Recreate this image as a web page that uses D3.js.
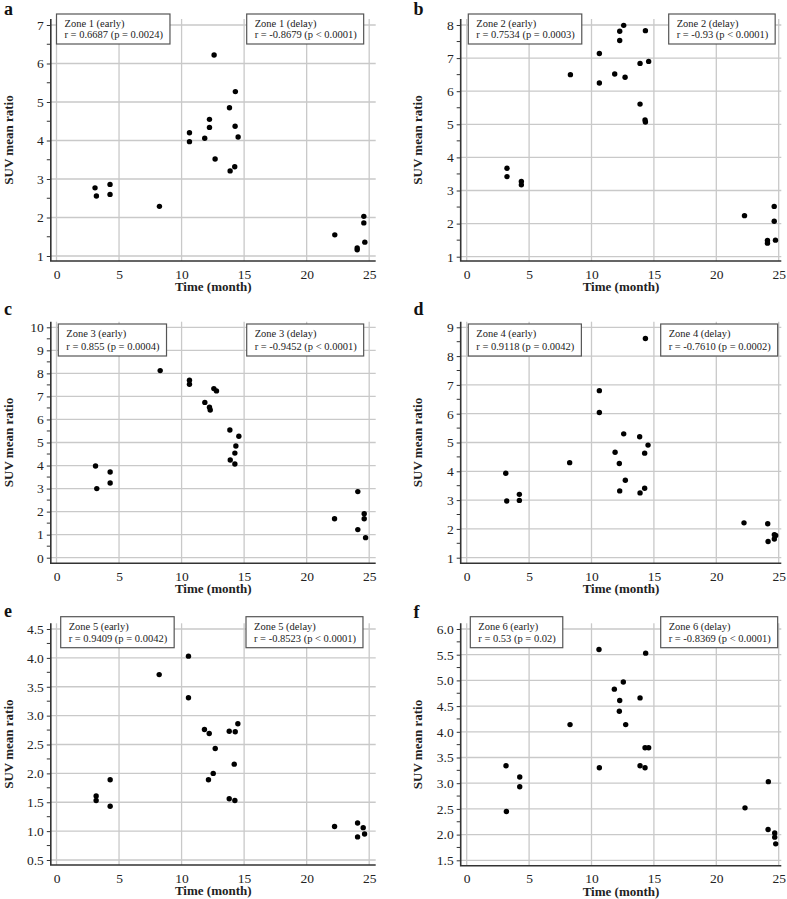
<!DOCTYPE html>
<html>
<head>
<meta charset="utf-8">
<script src="https://cdn.jsdelivr.net/npm/d3@7"></script>
<style>
  body { margin: 0; background: #fff; }
  svg { display: block; }
  text { font-family: "Liberation Serif", "Times New Roman", serif; }
</style>
</head>
<body>
<svg id="chart" width="787" height="899"></svg>
<script>
// ---------------- DATA ----------------
const xTickValues = [0, 5, 10, 15, 20, 25];

const zone1Time = [3.08, 3.19, 4.28, 4.28, 8.23, 10.63, 10.63, 11.85, 12.23, 12.23, 12.6, 12.68, 13.83, 13.88, 14.25, 14.28, 14.3, 14.52, 22.25, 24.04, 24.04, 24.57, 24.57, 24.65];
const zone1Suv  = [2.77, 2.56, 2.86, 2.60, 2.29, 4.20, 3.97, 4.06, 4.55, 4.34, 6.22, 3.52, 4.85, 3.21, 3.32, 4.37, 5.27, 4.09, 1.55, 1.21, 1.16, 2.03, 1.86, 1.36];

const zone2Time = [3.23, 3.23, 4.38, 4.38, 8.31, 10.63, 10.63, 11.86, 12.26, 12.26, 12.58, 12.69, 13.89, 13.89, 14.29, 14.32, 14.32, 14.58, 22.26, 24.1, 24.1, 24.64, 24.64, 24.74];
const zone2Suv  = [3.67, 3.42, 3.27, 3.17, 6.50, 7.14, 6.25, 6.52, 7.81, 7.53, 7.99, 6.42, 6.84, 5.61, 5.13, 5.07, 7.83, 6.90, 2.24, 1.49, 1.41, 2.52, 2.07, 1.50];

const zone3Time = [3.12, 3.22, 4.29, 4.29, 8.29, 10.63, 10.63, 11.86, 12.23, 12.29, 12.58, 12.79, 13.86, 13.89, 14.26, 14.26, 14.34, 14.58, 22.23, 24.09, 24.09, 24.6, 24.6, 24.71];
const zone3Suv  = [3.98, 3.00, 3.72, 3.24, 8.12, 7.70, 7.53, 6.74, 6.53, 6.41, 7.34, 7.24, 5.54, 4.24, 4.07, 4.54, 4.85, 5.27, 1.69, 2.87, 1.22, 1.91, 1.69, 0.87];

const zone4Time = [3.13, 3.21, 4.22, 4.22, 8.25, 10.63, 10.63, 11.89, 12.23, 12.26, 12.58, 12.71, 13.86, 13.89, 14.26, 14.26, 14.32, 14.53, 22.22, 24.12, 24.15, 24.65, 24.65, 24.76];
const zone4Suv  = [3.93, 2.97, 3.20, 2.99, 4.30, 6.80, 6.04, 4.66, 4.27, 3.32, 5.30, 3.69, 5.20, 3.25, 3.41, 4.63, 8.61, 4.91, 2.21, 2.18, 1.56, 1.80, 1.65, 1.77];

const zone5Time = [3.17, 3.17, 4.29, 4.29, 8.21, 10.55, 10.55, 11.83, 12.21, 12.15, 12.53, 12.69, 13.81, 13.81, 14.21, 14.26, 14.29, 14.5, 22.23, 24.07, 24.07, 24.52, 24.63];
const zone5Suv  = [1.61, 1.53, 1.89, 1.43, 3.71, 4.03, 3.31, 2.76, 2.69, 1.89, 2.00, 2.43, 2.73, 1.56, 2.16, 1.53, 2.72, 2.86, 1.08, 1.14, 0.90, 1.06, 0.95];

const zone6Time = [3.15, 3.18, 4.25, 4.25, 8.28, 10.6, 10.63, 11.83, 12.26, 12.23, 12.55, 12.74, 13.89, 13.89, 14.29, 14.29, 14.34, 14.58, 22.3, 24.17, 24.15, 24.68, 24.68, 24.76];
const zone6Suv  = [3.34, 2.45, 3.12, 2.93, 4.14, 5.60, 3.30, 4.83, 4.61, 4.40, 4.97, 4.14, 4.66, 3.34, 3.30, 3.69, 5.53, 3.69, 2.52, 3.03, 2.10, 2.03, 1.95, 1.82];

const zone1Ticks = [1, 2, 3, 4, 5, 6, 7];
const zone2Ticks = [1, 2, 3, 4, 5, 6, 7, 8];
const zone3Ticks = [0, 1, 2, 3, 4, 5, 6, 7, 8, 9, 10];
const zone4Ticks = [1, 2, 3, 4, 5, 6, 7, 8, 9];
const zone5Ticks = [0.5, 1.0, 1.5, 2.0, 2.5, 3.0, 3.5, 4.0, 4.5];
const zone6Ticks = [1.5, 2.0, 2.5, 3.0, 3.5, 4.0, 4.5, 5.0, 5.5, 6.0];

const panelLabels = ["a", "b", "c", "d", "e", "f"];
const earlyTitles = ["Zone 1 (early)", "Zone 2 (early)", "Zone 3 (early)", "Zone 4 (early)", "Zone 5 (early)", "Zone 6 (early)"];
const earlyStats  = ["r = 0.6687 (p = 0.0024)", "r = 0.7534 (p = 0.0003)", "r = 0.855 (p = 0.0004)", "r = 0.9118 (p = 0.0042)", "r = 0.9409 (p = 0.0042)", "r = 0.53 (p = 0.02)"];
const delayTitles = ["Zone 1 (delay)", "Zone 2 (delay)", "Zone 3 (delay)", "Zone 4 (delay)", "Zone 5 (delay)", "Zone 6 (delay)"];
const delayStats  = ["r = -0.8679 (p < 0.0001)", "r = -0.93 (p < 0.0001)", "r = -0.9452 (p < 0.0001)", "r = -0.7610 (p = 0.0002)", "r = -0.8523 (p < 0.0001)", "r = -0.8369 (p < 0.0001)"];

const xTitle = "Time (month)";
const yTitle = "SUV mean ratio";

// ---------------- LAYOUT ----------------
const leftCol  = { x0: 56.5, x25: 369.2, fL: 50.8, fR: 375.7, labX: 4, yLabX: 8.5 };
const rightCol = { x0: 73.7, x25: 385.7, fL: 67.7, fR: 388.3, labX: 20.5, yLabX: 24.5 };

const panels = [
  { cx: 0,   cy: 0,   col: leftCol,  t: zone1Time, v: zone1Suv, ticks: zone1Ticks, fmt: d3.format("d"),
    yTopPx: 25, yBotPx: 256, fT: 19, fB: 261, box1: 56.5, box2: 246.7, boxY: 14, boxH: 30, labY: 15 },
  { cx: 393, cy: 0,   col: rightCol, t: zone2Time, v: zone2Suv, ticks: zone2Ticks, fmt: d3.format("d"),
    yTopPx: 25, yBotPx: 256.7, fT: 19, fB: 261, box1: 75.3, box2: 275.7, boxY: 14, boxH: 30, labY: 15 },
  { cx: 0,   cy: 300, col: leftCol,  t: zone3Time, v: zone3Suv, ticks: zone3Ticks, fmt: d3.format("d"),
    yTopPx: 27.3, yBotPx: 257.7, fT: 21.7, fB: 263.3, box1: 58.3, box2: 246.7, boxY: 24, boxH: 32, labY: 15 },
  { cx: 393, cy: 300, col: rightCol, t: zone4Time, v: zone4Suv, ticks: zone4Ticks, fmt: d3.format("d"),
    yTopPx: 27.3, yBotPx: 257.7, fT: 21.7, fB: 263.3, box1: 75.3, box2: 267.7, boxY: 24, boxH: 32, labY: 15 },
  { cx: 0,   cy: 600, col: leftCol,  t: zone5Time, v: zone5Suv, ticks: zone5Ticks, fmt: d3.format(".1f"),
    yTopPx: 29, yBotPx: 260, fT: 23.3, fB: 265, box1: 60.7, box2: 246, boxY: 16.7, boxH: 31, labY: 16.5 },
  { cx: 393, cy: 600, col: rightCol, t: zone6Time, v: zone6Suv, ticks: zone6Ticks, fmt: d3.format(".1f"),
    yTopPx: 29, yBotPx: 260.3, fT: 23.3, fB: 265.7, box1: 77.3, box2: 267.7, boxY: 16.7, boxH: 31, labY: 17.5 }
];

const gridColor = "#c9c9c9";
const axisColor = "#333";
const fontStack = '"Liberation Serif", "Times New Roman", serif';

const svg = d3.select("#chart");

panels.forEach((p, i) => {
  const g = svg.append("g").attr("transform", `translate(${p.cx},${p.cy})`);
  const c = p.col;
  const x = d3.scaleLinear().domain([0, 25]).range([c.x0, c.x25]);
  const yMin = p.ticks[0], yMax = p.ticks[p.ticks.length - 1];
  const y = d3.scaleLinear().domain([yMin, yMax]).range([p.yBotPx, p.yTopPx]);
  const step = p.ticks[1] - p.ticks[0];

  // gridlines
  g.append("g").selectAll("line").data(xTickValues).join("line")
    .attr("x1", d => x(d)).attr("x2", d => x(d))
    .attr("y1", p.fT).attr("y2", p.fB)
    .attr("stroke", gridColor).attr("stroke-width", 1.3);
  g.append("g").selectAll("line").data(p.ticks).join("line")
    .attr("x1", c.fL).attr("x2", c.fR)
    .attr("y1", d => y(d)).attr("y2", d => y(d))
    .attr("stroke", gridColor).attr("stroke-width", 1.3);

  // y axis
  const yAxis = d3.axisLeft(y).tickValues(p.ticks).tickFormat(p.fmt).tickSize(4).tickPadding(3);
  const ya = g.append("g").attr("transform", `translate(${c.fL},0)`).call(yAxis);
  ya.select(".domain").remove();
  ya.selectAll(".tick line").attr("stroke", axisColor);
  ya.selectAll(".tick text").attr("font-size", 13.5).attr("fill", "#222").attr("font-family", fontStack);
  // minor ticks
  const minors = p.ticks.slice(0, -1).map(d => d + step / 2);
  g.append("g").selectAll("line").data(minors).join("line")
    .attr("x1", c.fL - 4).attr("x2", c.fL)
    .attr("y1", d => y(d)).attr("y2", d => y(d))
    .attr("stroke", axisColor).attr("stroke-width", 1);

  // x axis
  const xAxis = d3.axisBottom(x).tickValues(xTickValues).tickFormat(d3.format("d")).tickSize(0).tickPadding(8);
  const xa = g.append("g").attr("transform", `translate(0,${p.fB})`).call(xAxis);
  xa.select(".domain").remove();
  xa.selectAll(".tick text").attr("font-size", 13.5).attr("fill", "#222").attr("font-family", fontStack);

  // frame (left + bottom)
  g.append("path")
    .attr("d", `M${c.fL},${p.fT}V${p.fB}H${c.fR}`)
    .attr("fill", "none").attr("stroke", axisColor).attr("stroke-width", 1.6);

  // points
  const pts = p.t.map((t, k) => ({ t, v: p.v[k] }));
  g.append("g").selectAll("circle").data(pts).join("circle")
    .attr("cx", d => x(d.t)).attr("cy", d => y(d.v)).attr("r", 2.7)
    .attr("fill", "#000");

  // annotation boxes
  [[p.box1, earlyTitles[i], earlyStats[i]], [p.box2, delayTitles[i], delayStats[i]]].forEach(([bx, l1, l2]) => {
    const bg = g.append("g");
    const rect = bg.append("rect").attr("x", bx).attr("y", p.boxY).attr("height", p.boxH)
      .attr("fill", "#fff").attr("stroke", "#555").attr("stroke-width", 1.2);
    const t1 = bg.append("text").attr("x", bx + 8).attr("y", p.boxY + p.boxH * 0.42)
      .attr("font-size", 10.5).attr("fill", "#222").text(l1);
    const t2 = bg.append("text").attr("x", bx + 8).attr("y", p.boxY + p.boxH * 0.81)
      .attr("font-size", 10.5).attr("fill", "#222").text(l2);
    const w = Math.max(t1.node().getComputedTextLength(), t2.node().getComputedTextLength());
    rect.attr("width", w + 15);
  });

  // axis titles
  g.append("text").attr("x", (c.fL + c.fR) / 2).attr("y", p.fB + 30)
    .attr("text-anchor", "middle").attr("font-size", 13).attr("font-weight", "bold")
    .attr("fill", "#222").text(xTitle);
  g.append("text")
    .attr("transform", `translate(${c.yLabX},${(p.fT + p.fB) / 2}) rotate(-90)`)
    .attr("text-anchor", "middle").attr("dominant-baseline", "central")
    .attr("font-size", 13).attr("font-weight", "bold").attr("fill", "#222").text(yTitle);

  // panel letter
  g.append("text").attr("x", c.labX).attr("y", p.labY)
    .attr("font-size", 18).attr("font-weight", "bold").attr("fill", "#111").text(panelLabels[i]);
});
</script>
</body>
</html>
